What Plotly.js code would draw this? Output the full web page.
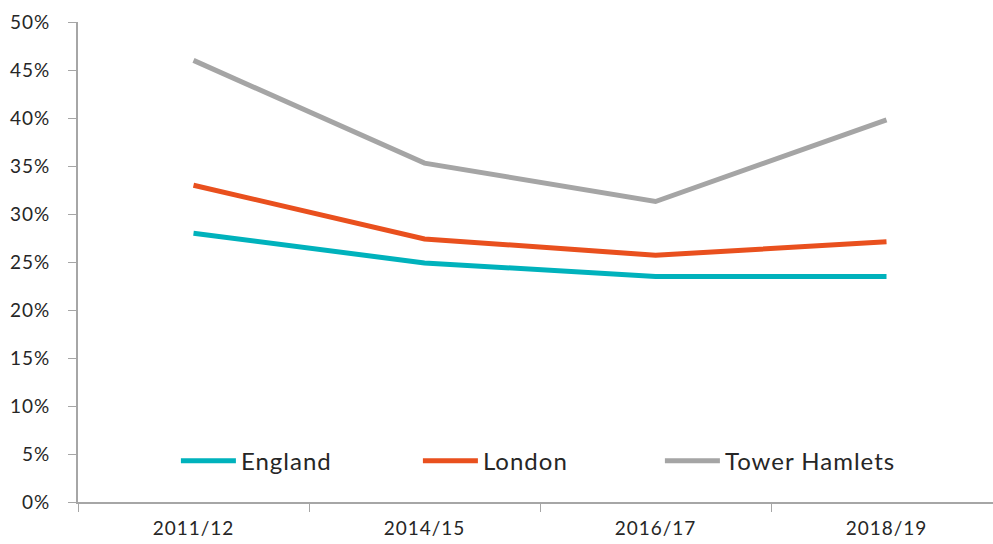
<!DOCTYPE html>
<html>
<head>
<meta charset="utf-8">
<script src="https://cdn.plot.ly/plotly-3.0.1.min.js"></script>
<style>
html,body{margin:0;padding:0;background:#fff;}
#chart{width:993px;height:544px;}
svg text{letter-spacing:1px;}
</style>
</head>
<body>
<div id="chart"></div>
<script>
const categories = ['2011/12', '2014/15', '2016/17', '2018/19'];
const england = [28.0, 24.9, 23.5, 23.5];
const london = [33.0, 27.4, 25.7, 27.1];
const towerHamlets = [46.0, 35.3, 31.3, 39.8];
const yTickVals = [0, 5, 10, 15, 20, 25, 30, 35, 40, 45, 50];
const yTickText = ['0%', '5%', '10%', '15%', '20%', '25%', '30%', '35%', '40%', '45%', '50%'];

const seriesNames = ['England', 'London', 'Tower Hamlets'];
const seriesColors = ['#00B2BC', '#E9501E', '#A5A5A5'];
const seriesValues = [england, london, towerHamlets];

const traces = seriesValues.map((vals, i) => ({
  type: 'scatter',
  mode: 'lines',
  x: categories,
  y: vals,
  name: seriesNames[i],
  line: {color: seriesColors[i], width: 5},
  hoverinfo: 'skip'
}));

const layout = {
  width: 993,
  height: 544,
  margin: {l: 78, r: 0, t: 22, b: 42, pad: 0},
  paper_bgcolor: '#ffffff',
  plot_bgcolor: '#ffffff',
  font: {family: 'Lato, sans-serif', color: '#262626', size: 19},
  showlegend: true,
  legend: {
    orientation: 'h',
    x: 0.107,
    xanchor: 'left',
    y: 0.085,
    yanchor: 'middle',
    font: {size: 24, color: '#262626'},
    itemwidth: 55,
    entrywidth: 172,
    entrywidthmode: 'pixels',
    bgcolor: 'rgba(0,0,0,0)',
    borderwidth: 0,
    tracegroupgap: 0
  },
  xaxis: {
    type: 'category',
    range: [-0.5, 3.461],
    showgrid: false,
    zeroline: false,
    showline: true,
    linecolor: '#A6A6A6',
    linewidth: 2,
    ticks: 'outside',
    tickson: 'boundaries',
    ticklen: 8,
    tickcolor: '#A6A6A6',
    tickwidth: 1,
    ticklabelstandoff: 8,
    tickfont: {size: 19, color: '#262626'}
  },
  yaxis: {
    range: [0, 50],
    tickvals: yTickVals,
    ticktext: yTickText,
    showgrid: false,
    zeroline: false,
    showline: true,
    linecolor: '#A6A6A6',
    linewidth: 2,
    ticks: 'outside',
    ticklen: 8,
    tickcolor: '#A6A6A6',
    tickwidth: 1,
    ticklabelstandoff: 14,
    tickfont: {size: 19, color: '#262626'}
  }
};

Plotly.newPlot('chart', traces, layout, {displayModeBar: false, staticPlot: true});
</script>
</body>
</html>
